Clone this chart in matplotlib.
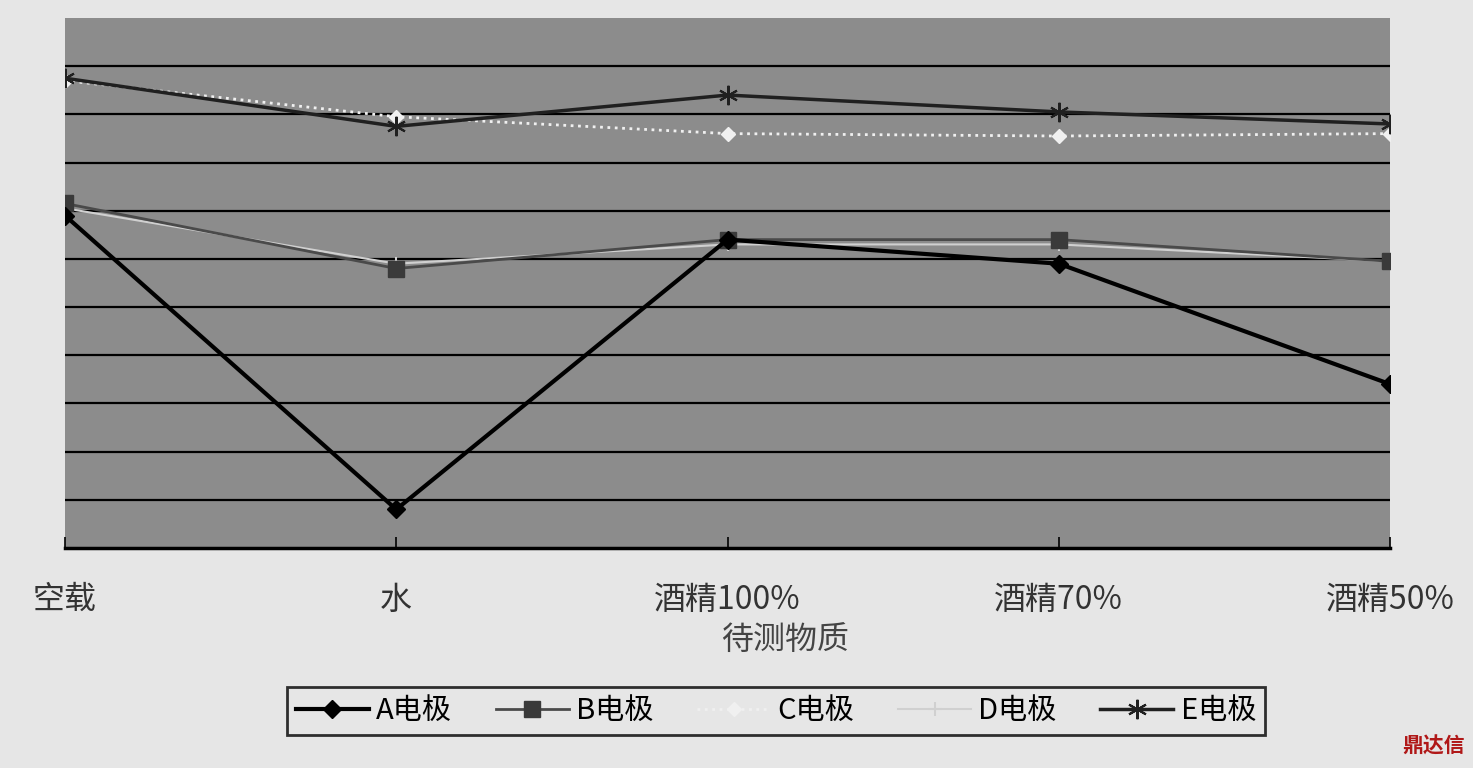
import matplotlib
matplotlib.use('Agg')
import matplotlib.pyplot as plt

plt.rcParams['font.family'] = ['Noto Sans CJK SC', 'DejaVu Sans']

categories = ['空载', '水', '酒精100%', '酒精70%', '酒精50%']
a_vals = [6.9, 0.8, 6.4, 5.9, 3.4]
b_vals = [7.15, 5.8, 6.4, 6.4, 5.95]
c_vals = [9.7, 8.95, 8.6, 8.55, 8.6]
d_vals = [7.05, 5.9, 6.3, 6.3, 5.95]
e_vals = [9.75, 8.75, 9.4, 9.05, 8.8]
legend_names = ['A电极', 'B电极', 'C电极', 'D电极', 'E电极']
x_title = '待测物质'

fig = plt.figure(figsize=(14.73, 7.68), dpi=100)
fig.patch.set_facecolor('#e6e6e6')
ax = fig.add_axes([0.0441, 0.2865, 0.8996, 0.6901])
ax.set_facecolor('#8c8c8c')

x = range(len(categories))
ax.plot(x, c_vals, color='#f0f0f0', lw=2, ls=':', marker='D', ms=7,
        mfc='#f0f0f0', mec='#f0f0f0', label=legend_names[2], zorder=3)
ax.plot(x, d_vals, color='#d0d0d0', lw=1.5, marker='+', ms=10,
        mew=1.5, label=legend_names[3], zorder=3)
ax.plot(x, b_vals, color='#4a4a4a', lw=2, marker='s', ms=12,
        mfc='#3a3a3a', mec='#3a3a3a', label=legend_names[1], zorder=4)
ax.plot(x, e_vals, color='#202020', lw=2.5, marker=(6, 2, 0), ms=14,
        mew=1.5, label=legend_names[4], zorder=4)
ax.plot(x, a_vals, color='black', lw=3, marker='D', ms=9,
        label=legend_names[0], zorder=5)

ax.set_xlim(0, 4)
ax.set_ylim(0, 11)
ax.set_yticks(range(1, 11))
ax.yaxis.grid(True, color='black', lw=1.6)
ax.set_axisbelow(True)
ax.tick_params(axis='y', left=False, labelleft=False)
ax.set_xticks(list(x))
ax.set_xticklabels(categories, fontsize=23, color='#333333')
ax.tick_params(axis='x', direction='in', length=8, width=1.2, pad=26)
for side in ['top', 'right', 'left']:
    ax.spines[side].set_visible(False)
ax.spines['bottom'].set_linewidth(2.5)

fig.text(785 / 1473, 1 - 640 / 768, x_title, fontsize=23, color='#444444',
         ha='center', va='center')

handles, labels = ax.get_legend_handles_labels()
order = [labels.index(n) for n in legend_names]
leg = fig.legend([handles[i] for i in order], [labels[i] for i in order],
                 ncol=5, loc='center', bbox_to_anchor=(776 / 1473, 1 - 711 / 768),
                 fontsize=21, fancybox=False, frameon=True, handlelength=2.5,
                 handletextpad=0.25, columnspacing=1.5, borderpad=0.3)
leg.get_frame().set_edgecolor('black')
leg.get_frame().set_linewidth(2)
leg.get_frame().set_facecolor('#e6e6e6')

fig.text(1465 / 1473, 1 - 746 / 768, '鼎达信', fontsize=15, color='#b01818',
         ha='right', va='center', fontweight='bold')

fig.savefig('out.png', dpi=100, facecolor=fig.get_facecolor())
